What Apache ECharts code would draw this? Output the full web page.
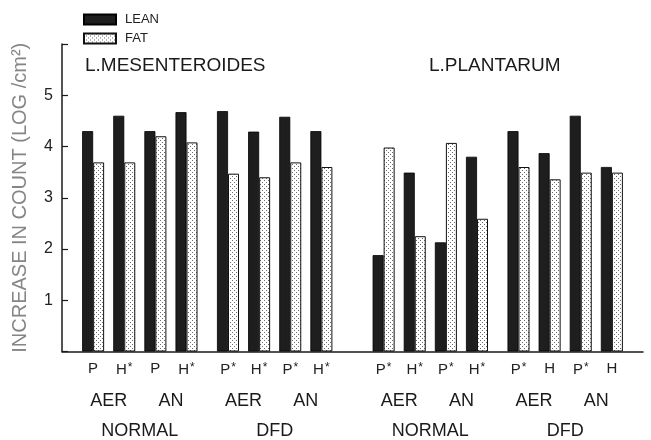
<!DOCTYPE html>
<html><head><meta charset="utf-8">
<script src="https://cdn.jsdelivr.net/npm/echarts@6/dist/echarts.min.js"></script>
<style>html,body{margin:0;padding:0;background:#fff}#c{width:651px;height:440px}</style>
</head><body><div id="c"></div>
<script>
// ---- data ----
const species = ['L.MESENTEROIDES', 'L.PLANTARUM'];
const treatments = ['NORMAL', 'DFD'];
const atmospheres = ['AER', 'AN'];
const pairLabels = ['P','H*','P','H*','P*','H*','P*','H*','P*','H*','P*','H*','P*','H','P*','H'];
const lean = [4.30,4.60,4.30,4.67,4.69,4.29,4.58,4.30,1.88,3.49,2.13,3.80,4.30,3.87,4.60,3.60];
const fat  = [3.69,3.69,4.20,4.08,3.47,3.40,3.69,3.60,3.98,2.25,4.07,2.59,3.60,3.36,3.49,3.49];
const seriesNames = ['LEAN', 'FAT'];
const yTicks = [1, 2, 3, 4, 5];
const yTitle = 'INCREASE IN COUNT (LOG /cm\u00B2)';

// ---- layout of category slots (half-units) ----
const STEP = 6, TGAP = 2, SGAP = 4, START = 6, END_PAD = 6;
const pos = [], atmLab = [], trtLab = [];
let x = START;
species.forEach(() => {
  treatments.forEach(t => {
    const tStart = x;
    atmospheres.forEach(a => {
      const aStart = x;
      for (let j = 0; j < 2; j++) { pos.push(x); x += STEP; }
      atmLab.push([(aStart + x - STEP) / 2, a]);
    });
    trtLab.push([(tStart + x - STEP) / 2, t]);
    x += TGAP;
  });
  x += SGAP;
});
const n = pos[pos.length - 1] + END_PAD + 1;
const cats = Array.from({length: n}, (_, i) => String(i));
const lab0 = Array(n).fill(''), lab1 = Array(n).fill(''), lab2 = Array(n).fill('');
pos.forEach((p, i) => lab0[p] = pairLabels[i]);
atmLab.forEach(([p, a]) => lab1[p] = a);
trtLab.forEach(([p, t]) => lab2[p] = t);
const leanData = Array(n).fill('-'), fatData = Array(n).fill('-');
pos.forEach((p, i) => { leanData[p] = lean[i]; fatData[p] = fat[i]; });

// stipple pattern
const pc = document.createElement('canvas');
pc.width = 4; pc.height = 4;
const g = pc.getContext('2d');
g.fillStyle = '#ffffff'; g.fillRect(0, 0, 4, 4);
g.fillStyle = '#6a6a6a';
g.fillRect(0, 0, 1, 1); g.fillRect(2, 2, 1, 1);

const font = 'Liberation Sans, Arial, sans-serif';
const chart = echarts.init(document.getElementById('c'), null, {renderer: 'canvas'});
const baseX = {
  type: 'category', data: cats, gridIndex: 0, position: 'bottom',
  boundaryGap: false, axisTick: {show: false}, splitLine: {show: false}
};
chart.setOption({
  animation: false,
  backgroundColor: '#ffffff',
  textStyle: {fontFamily: font},
  grid: {left: 62, right: 8, top: 44, bottom: 83.5, containLabel: false},
  title: [
    {text: species[0], left: 85, top: 56, textStyle: {fontFamily: font, fontSize: 19, fontWeight: 'normal', color: '#1a1a1a'}, padding: 0},
    {text: species[1], left: 429, top: 56, textStyle: {fontFamily: font, fontSize: 19, fontWeight: 'normal', color: '#1a1a1a'}, padding: 0}
  ],
  legend: {
    data: seriesNames, orient: 'vertical', left: 83, top: 13, padding: 0,
    itemWidth: 32, itemHeight: 10, itemGap: 6, icon: 'rect',
    textStyle: {fontFamily: font, fontSize: 13, color: '#222', padding: [0, 0, 0, 4]}
  },
  xAxis: [
    Object.assign({}, baseX, {
      axisLine: {show: true, lineStyle: {color: '#1a1a1a', width: 1.5}},
      axisLabel: {interval: 0, margin: 10, fontSize: 15, color: '#222', fontFamily: font,
        formatter: v => lab0[+v].replace('*', '{s|*}'),
        rich: {s: {fontSize: 12, fontFamily: font, color: '#222', verticalAlign: 'top', padding: [0, 0, 4, 1]}}}
    }),
    Object.assign({}, baseX, {
      offset: 32.5, axisLine: {show: false},
      axisLabel: {interval: 0, margin: 8, fontSize: 18, color: '#1a1a1a', fontFamily: font,
        formatter: v => lab1[+v]}
    }),
    Object.assign({}, baseX, {
      offset: 62.5, axisLine: {show: false},
      axisLabel: {interval: 0, margin: 8, fontSize: 18, color: '#1a1a1a', fontFamily: font,
        formatter: v => lab2[+v]}
    })
  ],
  yAxis: {
    type: 'value', min: 0, max: 6, interval: 1,
    name: yTitle, nameLocation: 'middle', nameRotate: 90, nameGap: 32,
    nameTextStyle: {fontFamily: font, fontSize: 20, color: '#858585'},
    axisLine: {show: true, lineStyle: {color: '#1a1a1a', width: 1.5}},
    axisTick: {show: true, inside: true, length: 6, lineStyle: {color: '#1a1a1a', width: 1.2}},
    splitLine: {show: false},
    axisLabel: {margin: 9, fontSize: 16, color: '#222', fontFamily: font,
      formatter: v => yTicks.indexOf(v) >= 0 ? String(v) : ''}
  },
  series: [
    {name: seriesNames[0], type: 'bar', xAxisIndex: 0, data: leanData, barWidth: 11, barGap: '0%',
      itemStyle: {color: '#1e1e1e', borderColor: '#000', borderWidth: 0.8}},
    {name: seriesNames[1], type: 'bar', xAxisIndex: 0, data: fatData, barWidth: 11, barGap: '0%',
      itemStyle: {color: {image: pc, repeat: 'repeat'}, borderColor: '#111', borderWidth: 1}}
  ]
});
</script></body></html>
